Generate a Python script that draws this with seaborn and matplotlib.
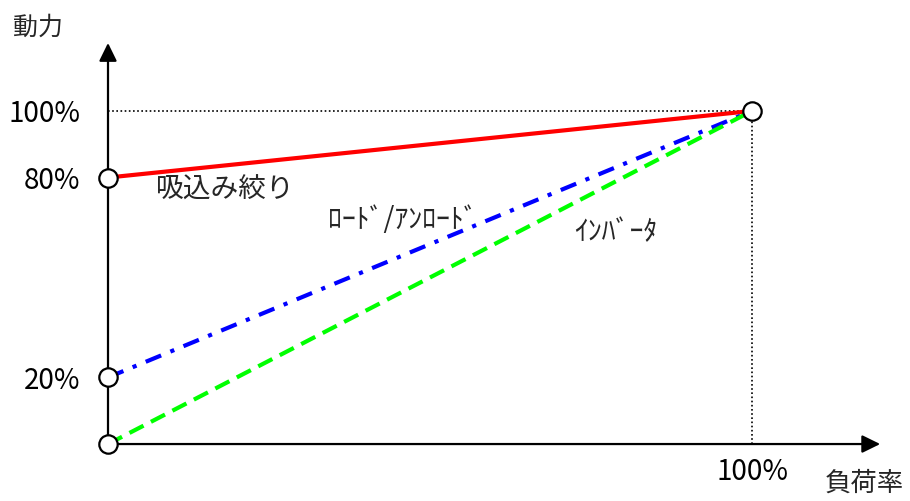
"""Schematic: compressor power vs. load for three capacity-control methods."""

import matplotlib.pyplot as plt
import pandas as pd
import seaborn as sns

# ── Data ─────────────────────────────────────────────────────────────────────
methods = ["吸込み絞り", "ﾛｰﾄﾞ/ｱﾝﾛｰﾄﾞ", "ｲﾝﾊﾞｰﾀ"]
load_pct = [0, 100]
power_suction = [80, 100]
power_loadunload = [20, 100]
power_inverter = [0, 100]

y_ticks = [20, 80, 100]
y_ticklabels = ["20%", "80%", "100%"]
x_ticks = [100]
x_ticklabels = ["100%"]

# ── Style ────────────────────────────────────────────────────────────────────
sns.set_theme(style="white")
plt.rcParams["font.family"] = ["Noto Sans CJK JP", "DejaVu Sans"]

colors = {methods[0]: "#ff0000", methods[1]: "#0000ff", methods[2]: "#00ff00"}
dashes = {methods[0]: "", methods[1]: (4, 2.4, 1, 2.4), methods[2]: (3.8, 2.0)}

df = pd.DataFrame(
    {
        "load": load_pct * 3,
        "power": power_suction + power_loadunload + power_inverter,
        "method": [m for m in methods for _ in load_pct],
    }
)

fig = plt.figure(figsize=(9.1, 5.01), dpi=100)
ax = fig.add_axes([0, 0, 1, 1])

sns.lineplot(
    data=df, x="load", y="power", hue="method", style="method",
    palette=colors, dashes=dashes, linewidth=3, legend=False, ax=ax, zorder=3,
)

# guide lines to the 100 % / 100 % point
ax.hlines(power_suction[-1], 0, load_pct[-1], colors="black", linestyles=(0, (1, 1.5)), lw=1.2, zorder=1)
ax.vlines(load_pct[-1], 0, power_suction[-1], colors="black", linestyles=(0, (1, 1.5)), lw=1.2, zorder=1)

# end-point circles
pts = pd.DataFrame(
    {
        "load": [0, 0, 0, load_pct[-1]],
        "power": [power_inverter[0], power_loadunload[0], power_suction[0], power_suction[-1]],
    }
)
sns.scatterplot(
    data=pts, x="load", y="power", s=175, color="white",
    edgecolor="black", linewidth=1.6, ax=ax, zorder=5, legend=False,
)

# axes with arrow heads
ax.set_xlim(-16.77, 124.53)
ax.set_ylim(-17.1, 133.3)
arrow = dict(arrowstyle="-|>,head_length=0.55,head_width=0.27", mutation_scale=20,
             lw=1.6, color="black", shrinkA=0, shrinkB=0)
ax.annotate("", xy=(119.9, 0), xytext=(0, 0), arrowprops=arrow, zorder=2)
ax.annotate("", xy=(0, 120.4), xytext=(0, 0), arrowprops=arrow, zorder=2)

for side in ["top", "right"]:
    ax.spines[side].set_visible(False)
ax.spines["left"].set_position(("data", 0))
ax.spines["bottom"].set_position(("data", 0))
ax.spines["left"].set_visible(False)
ax.spines["bottom"].set_visible(False)

ax.set_yticks(y_ticks, y_ticklabels)
ax.set_xticks(x_ticks, x_ticklabels)
ax.tick_params(axis="y", length=0, pad=20, labelsize=20, labelcolor="black")
ax.tick_params(axis="x", length=0, pad=9, labelsize=20, labelcolor="black")
ax.set_xlabel("")
ax.set_ylabel("")
ax.grid(False)

# text labels
ax.text(-10.9, 124.9, "動力", fontsize=18, ha="center", va="center")
ax.text(117.4, -11.7, "負荷率", fontsize=19, ha="center", va="center")
ax.text(18.3, 76.3, methods[0], fontsize=20, ha="center", va="center")
ax.text(45.7, 67.3, methods[1], fontsize=20, ha="center", va="center")
ax.text(78.9, 63.7, methods[2], fontsize=20, ha="center", va="center")

fig.savefig("out.png", dpi=100)
